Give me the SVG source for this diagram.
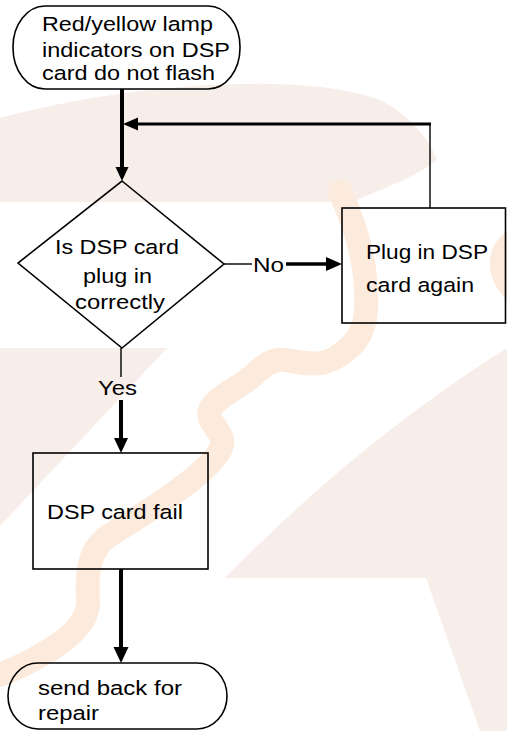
<svg xmlns="http://www.w3.org/2000/svg" width="507" height="731" viewBox="0 0 507 731">
<style>
.wm-pink{fill:#f8eee9;stroke:none}
.wm-orange{fill:none;stroke:#fcebdc;stroke-width:24;stroke-linecap:round;stroke-linejoin:round}
.shape{fill:none;stroke:#000;stroke-width:1.6}
.thin{fill:none;stroke:#000;stroke-width:1.4}
.thick{fill:none;stroke:#000;stroke-width:4}
.head{fill:#000;stroke:none}
text{font-family:"Liberation Sans",Arial,sans-serif;font-size:20.5px;fill:#000}
</style>
<rect width="507" height="731" fill="#fff"/>
<g id="watermark">
<path class="wm-pink" d="M0 118 C120 85 300 70 380 100 C410 115 430 140 437 160 C420 175 380 190 352 202 L0 202 Z"/>
<path class="wm-pink" d="M0 348 L167 348 L0 526 Z"/>
<path class="wm-pink" d="M507 348 Q360 440 225 578 L426 578 L480 731 L507 731 Z"/>
<path class="wm-orange" d="M340 192 C358 230 368 270 366 310 C365 335 352 348 335 358 C318 368 300 362 285 360 C270 358 262 368 250 378 C235 390 215 398 210 410 C205 422 225 432 222 445 C215 470 150 510 110 535 C90 548 86 570 88 600 C90 625 60 650 0 675"/>
<path class="wm-orange" d="M515 240 C500 250 495 270 515 292"/>
</g>
<g id="connectors">
<line class="thick" x1="122" y1="89" x2="122" y2="170"/>
<polygon class="head" points="115.5,167 128.5,167 122,181"/>
<line class="thin" x1="430" y1="208" x2="430" y2="124"/>
<line class="thick" x1="431" y1="124" x2="135" y2="124" style="stroke-width:3"/>
<polygon class="head" points="138,117.5 138,130.5 123,124"/>
<line class="thin" x1="224" y1="264" x2="252" y2="264"/>
<line class="thick" x1="286" y1="264" x2="328" y2="264" style="stroke-width:3.5"/>
<polygon class="head" points="326,257 326,271 342,264"/>
<line class="thin" x1="121" y1="348" x2="121" y2="377"/>
<line class="thick" x1="121" y1="400" x2="121" y2="441"/>
<polygon class="head" points="114,438 128,438 121,453"/>
<line class="thick" x1="121" y1="569" x2="121" y2="650"/>
<polygon class="head" points="113.5,647 128.5,647 121,663"/>
<text x="253" y="272" textLength="31" lengthAdjust="spacingAndGlyphs">No</text>
<text x="98" y="395" textLength="39" lengthAdjust="spacingAndGlyphs">Yes</text>
</g>
<g id="start">
<rect class="shape" x="13" y="6" width="227" height="83" rx="32" ry="41"/>
<text x="42" y="31" textLength="171" lengthAdjust="spacingAndGlyphs">Red/yellow lamp</text>
<text x="42" y="57" textLength="188" lengthAdjust="spacingAndGlyphs">indicators on DSP</text>
<text x="42" y="80" textLength="173" lengthAdjust="spacingAndGlyphs">card do not flash</text>
</g>
<g id="decision">
<polygon class="shape" points="122,181 224,264 122,348 18,263"/>
<text x="55" y="254" textLength="124" lengthAdjust="spacingAndGlyphs">Is DSP card</text>
<text x="83" y="283" textLength="69" lengthAdjust="spacingAndGlyphs">plug in</text>
<text x="75" y="309" textLength="90" lengthAdjust="spacingAndGlyphs">correctly</text>
</g>
<g id="replug">
<rect class="shape" x="342" y="208" width="163.5" height="115"/>
<text x="366" y="259" textLength="122" lengthAdjust="spacingAndGlyphs">Plug in DSP</text>
<text x="366" y="292" textLength="108" lengthAdjust="spacingAndGlyphs">card again</text>
</g>
<g id="fail">
<rect class="shape" x="33" y="453" width="175" height="116"/>
<text x="47" y="519" textLength="136" lengthAdjust="spacingAndGlyphs">DSP card fail</text>
</g>
<g id="end">
<rect class="shape" x="8" y="663" width="219" height="66" rx="30" ry="33"/>
<text x="38" y="695" textLength="144" lengthAdjust="spacingAndGlyphs">send back for</text>
<text x="38" y="720" textLength="61" lengthAdjust="spacingAndGlyphs">repair</text>
</g>
</svg>
